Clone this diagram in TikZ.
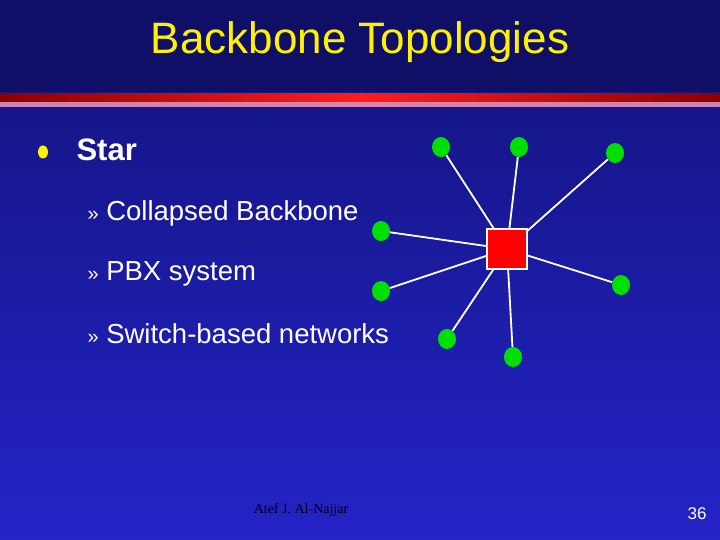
\documentclass[tikz,border=0pt]{standalone}
\usepackage{fontspec}
\setmainfont{Liberation Sans}
\newfontfamily\serifont{Liberation Serif}
\usetikzlibrary{shapes.geometric}
\definecolor{bgtop}{HTML}{12127A}
\definecolor{bgbot}{HTML}{2424C8}
\definecolor{nodegreen}{HTML}{00E000}
\begin{document}
\begin{tikzpicture}[x=1pt,y=-1pt,
  leaf/.style={ellipse,fill=nodegreen,minimum width=18pt,minimum height=20pt,inner sep=0pt},
  hub/.style={rectangle,fill=red,draw=white,line width=1.5pt,minimum size=40pt,inner sep=0pt},
  link/.style={white,line width=1.8pt},
  sub/.style={anchor=west,font=\fontsize{27.5}{30}\selectfont,text=white}]
\useasboundingbox (0,0) rectangle (720,540);
\shade[top color=bgtop,bottom color=bgbot] (0,0) rectangle (720,540);
\fill[bgtop!85!black] (0,0) rectangle (720,92);
\shade[left color=red!55!black,right color=red!55!black,middle color=red!85!pink] (0,94) rectangle (720,102);
\shade[left color=violet!60!pink!70,right color=violet!60!pink!70,middle color=pink!70!violet] (0,103) rectangle (720,107);
\node[text=yellow,font=\fontsize{44}{48}\selectfont] (title) at (360,42) {Backbone Topologies};
\node[ellipse,fill=yellow,minimum width=10pt,minimum height=13pt,inner sep=0pt] (bul) at (43,152) {};
\node[anchor=west,text=white,font=\bfseries\fontsize{31}{34}\selectfont] (star) at (73,150) {Star};
\node[sub] (s1) at (84,213) {\fontsize{20}{22}\selectfont»\fontsize{27.5}{30}\selectfont\ Collapsed Backbone};
\node[sub] (s2) at (84,274) {\fontsize{20}{22}\selectfont»\fontsize{27.5}{30}\selectfont\ PBX system};
\node[sub] (s3) at (84,334) {\fontsize{20}{22}\selectfont»\fontsize{27.5}{30}\selectfont\ Switch-based networks};
\coordinate (c) at (507,249);
\node[leaf] (n1) at (441,147) {};
\node[leaf] (n2) at (519,147) {};
\node[leaf] (n3) at (615,153) {};
\node[leaf] (n4) at (381,231) {};
\node[leaf] (n5) at (381,291) {};
\node[leaf] (n6) at (447,339) {};
\node[leaf] (n7) at (513,357) {};
\node[leaf] (n8) at (621,285) {};
\foreach \n in {n1,n2,n3,n4,n5,n6,n7,n8} \draw[link] (\n) -- (c);
\node[hub] (sq) at (c) {};
\node[text=black,font=\serifont\fontsize{14}{16}\selectfont] (foot) at (301,510) {Atef J. Al-Najjar};
\node[text=white,font=\fontsize{17}{20}\selectfont] (pg) at (697,514) {36};
\end{tikzpicture}
\end{document}
